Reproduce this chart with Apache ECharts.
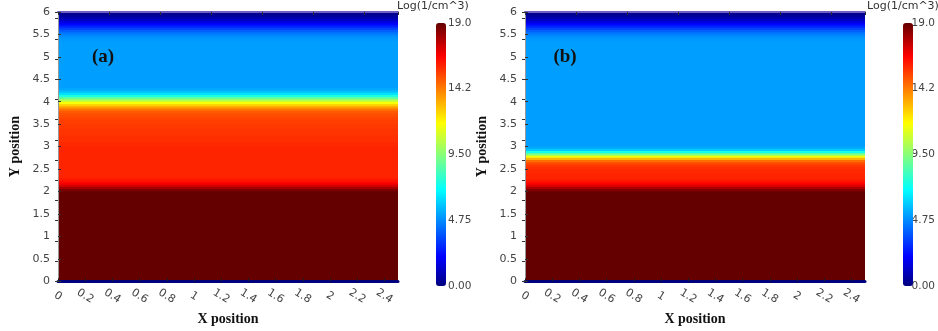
<!DOCTYPE html>
<html><head><meta charset="utf-8">
<script src="https://cdn.jsdelivr.net/npm/echarts@6/dist/echarts.min.js"></script>
<style>html,body{margin:0;padding:0;background:#fff}#c{width:938px;height:331px}</style>
</head><body><div id="c"></div>
<script>
// ---- data (one value per 0.05 band of Y position, from Y=0 upward) ----
const xRange = [0, 2.5];
const yRange = [0, 6];
const yBandStep = 0.05;
const colorbarTicks = [0, 4.75, 9.5, 14.25, 19];
const colorbarLabels = ['0.00', '4.75', '9.50', '14.2', '19.0'];
const colorbarTitle = 'Log(1/cm^3)';
const panelLabels = ['(a)', '(b)'];
const xName = 'X position';
const yName = 'Y position';

const profileA = [
  19,19,19,19,19,19,19,19,19,19, 19,19,19,19,19,19,19,19,19,19,
  19,19,19,19,19,19,19,19,19,19, 19,19,19,19,19,19,19,19,19,19,
  18.7,18.0,17.3,16.7,16.3,16.1,
  15.9,15.9,15.9,15.9,15.9,15.9,15.9,15.9,15.9,15.9,15.9,15.9,15.9,15.9,
  15.8,15.8,15.7,15.7,15.7,15.6,15.6,15.6,15.5,15.5,
  15.4,15.4,15.3,15.2,15.1,14.9,
  14.4,13.6,12.6,11.6,10.4,8.9,7.5,6.4,5.7,5.3,
  5.1,5.1,5.1,5.1,5.1,5.1,5.1,5.1,5.1,5.1, 5.1,5.1,5.1,5.1,5.1,5.1,5.1,5.1,5.1,5.1,
  5.1,5.0,4.9,4.7,
  4.4,3.9,3.4,2.8,2.2,1.6,1.1,0.7,0.4,0.2
];
const profileB = [
  19,19,19,19,19,19,19,19,19,19, 19,19,19,19,19,19,19,19,19,19,
  19,19,19,19,19,19,19,19,19,19, 19,19,19,19,19,19,19,19,19,19,
  18.6,17.9,17.2,16.6,16.2,16.0,
  15.9,15.9,15.8,15.8,
  15.7,15.5,15.2,14.5,13.2,11.5,9.3,7.3,5.9,5.3,
  5.1,5.1,5.1,5.1,5.1,5.1,5.1,5.1,5.1,5.1, 5.1,5.1,5.1,5.1,5.1,5.1,5.1,5.1,5.1,5.1,
  5.1,5.1,5.1,5.1,5.1,5.1,5.1,5.1,5.1,5.1, 5.1,5.1,5.1,5.1,5.1,5.1,5.1,5.1,5.1,5.1,
  5.1,5.1,5.1,5.1,5.1,5.1,
  5.1,5.0,4.9,4.7,
  4.4,3.9,3.4,2.8,2.2,1.6,1.1,0.7,0.4,0.2
];

// ---- colour map (ParaView-like jet) ----
const jetStops = [[0,[0,0,128]],[0.111,[0,0,255]],[0.365,[0,255,255]],[0.492,[128,255,128]],
  [0.619,[255,255,0]],[0.746,[255,128,0]],[0.873,[255,0,0]],[1,[100,0,0]]];
function jetAt(t){
  for (let k=1;k<jetStops.length;k++){
    const [p1,c1]=jetStops[k-1],[p2,c2]=jetStops[k];
    if (t<=p2){const f=(t-p1)/(p2-p1);
      return 'rgb('+c1.map((c,j)=>Math.round(c+(c2[j]-c)*f)).join(',')+')';}
  }
  return 'rgb(100,0,0)';
}
const palette=[]; for(let i=0;i<=100;i++) palette.push(jetAt(i/100));

const FONT = 'DejaVu Sans';
const SERIF = 'Liberation Serif';

function bandRender(params, api){
  const p0 = api.coord([xRange[0], api.value(0)]);
  const p1 = api.coord([xRange[1], api.value(1)]);
  const cs = params.coordSys;
  const top = Math.max(cs.y, p1[1] - 1);
  const bot = Math.min(cs.y + cs.height, p0[1]);
  return {type:'rect', shape:{x:cs.x, y:top, width:cs.width, height:bot - top},
    style:{fill:api.visual('color')}, silent:true};
}

const panels = [{left:58, cb:436, title:397, lab:103, prof:profileA},
                {left:525, cb:903, title:867, lab:565, prof:profileB}];
const PT=12, PW=340, PH=273;
const grid=[], xAxis=[], yAxis=[], series=[], visualMap=[], graphic=[];
panels.forEach((p, k) => {
  const g0 = grid.length;
  grid.push({left:p.left, top:PT, width:PW, height:PH});
  grid.push({left:p.cb, top:23, width:10, height:263});
  const xi = xAxis.length, yi = yAxis.length;
  xAxis.push({type:'value', gridIndex:g0, min:xRange[0], max:xRange[1], interval:0.2, position:'bottom', z:10,
    axisLine:{show:true, onZero:false, lineStyle:{color:'#00007a', width:3}},
    axisTick:{show:true, inside:true, length:3, lineStyle:{color:'#222'}},
    splitLine:{show:false},
    axisLabel:{rotate:-32, align:'center', verticalAlign:'middle', margin:15, showMaxLabel:false,
      color:'#444', fontFamily:FONT, fontSize:11},
    name:xName, nameLocation:'middle', nameGap:27,
    nameTextStyle:{fontFamily:SERIF, fontWeight:'bold', fontSize:14, color:'#111'}});
  xAxis.push({type:'value', gridIndex:g0, min:xRange[0], max:xRange[1], interval:0.375, position:'top', z:10,
    axisLine:{show:true, onZero:false, lineStyle:{color:'#6f5fc4', width:2}},
    axisTick:{show:true, inside:true, length:3, lineStyle:{color:'#333'}},
    axisLabel:{show:false}, splitLine:{show:false}});
  xAxis.push({type:'value', gridIndex:g0+1, show:false});
  yAxis.push({type:'value', gridIndex:g0, min:yRange[0], max:yRange[1], interval:0.5, position:'left', z:10,
    axisLine:{show:true, onZero:false, lineStyle:{color:'#999', width:1}},
    axisTick:{show:true, inside:true, length:3, lineStyle:{color:'#333'}},
    splitLine:{show:false},
    axisLabel:{margin:8, color:'#444', fontFamily:FONT, fontSize:11},
    name:yName, nameLocation:'middle', nameGap:36, nameRotate:90,
    nameTextStyle:{fontFamily:SERIF, fontWeight:'bold', fontSize:14, color:'#111'}});
  yAxis.push({type:'value', gridIndex:g0, min:yRange[0], max:yRange[1], interval:0.45, position:'right', z:10,
    axisLine:{show:false}, axisTick:{show:true, inside:true, length:3, lineStyle:{color:'#333'}},
    axisLabel:{show:false}, splitLine:{show:false}});
  yAxis.push({type:'value', gridIndex:g0+1, min:colorbarTicks[0], max:colorbarTicks[colorbarTicks.length-1],
    interval:colorbarTicks[1]-colorbarTicks[0], position:'right',
    axisLine:{show:false}, axisTick:{show:false}, splitLine:{show:false},
    axisLabel:{margin:2, color:'#444', fontFamily:FONT, fontSize:10.5,
      formatter:v => { const j = colorbarTicks.findIndex(t => Math.abs(t - v) < 1e-6); return j >= 0 ? colorbarLabels[j] : ''; }}});
  series.push({type:'custom', xAxisIndex:xi, yAxisIndex:yi, renderItem:bandRender, clip:true,
    encode:{y:[0,1]}, z:2,
    data:p.prof.map((v,i)=>[i*yBandStep, (i+1)*yBandStep, v])});
  visualMap.push({type:'continuous', seriesIndex:k, dimension:2, min:0, max:19, orient:'vertical', left:p.cb, top:23,
    itemWidth:10, itemHeight:263, padding:0, calculable:false, hoverLink:false, inRange:{color:palette}});
  graphic.push({type:'text', left:p.title, top:1, style:{text:colorbarTitle, font:'11px "DejaVu Sans"', fill:'#333'}});
  graphic.push({type:'text', x:p.lab, y:57, z:50, style:{text:panelLabels[k], font:'bold 19px "Liberation Serif"', fill:'#111', align:'center', verticalAlign:'middle'}});
});

const chart = echarts.init(document.getElementById('c'), null, {renderer:'canvas'});
chart.setOption({animation:false, backgroundColor:'#fff', grid, xAxis, yAxis, series, visualMap, graphic});
</script></body></html>
